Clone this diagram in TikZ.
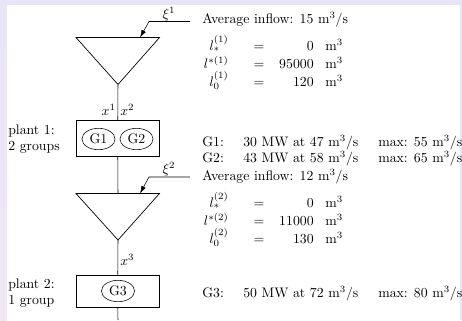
\documentclass[tikz,border=0pt]{standalone}
\usepackage{tikz}
\usetikzlibrary{shapes.geometric, arrows.meta, positioning, calc}
\definecolor{slideback}{RGB}{232,229,248}
\definecolor{slidebacklow}{RGB}{242,230,245}

\begin{document}
\begin{tikzpicture}[
  x=0.725pt, y=-0.725pt,
  plant/.style={rectangle, draw, minimum width=60.5pt, minimum height=26pt, inner sep=0pt},
  gen/.style={ellipse, draw, minimum width=24pt, minimum height=15.5pt, inner sep=0pt},
  res/.style={line width=0.5pt, line join=miter},
  arr/.style={-{Latex[length=5.5pt, width=3.5pt]}},
  txt/.style={anchor=base west, inner sep=0pt},
  lab/.style={anchor=base east, inner sep=0pt},
  eqs/.style={anchor=base, inner sep=0pt},
  num/.style={anchor=base east, inner sep=0pt},
  unit/.style={anchor=base west, inner sep=0pt}
]
\useasboundingbox (0,0) rectangle (462,320);

% ===== Slide background =====
\fill[slideback] (0,0) rectangle (462,320);
\shade[top color=slideback, bottom color=slidebacklow] (0,0) rectangle (7,320);
\fill[white] (7,5) rectangle (460,320);

% ===== Reservoir 1 =====
\coordinate (r1l) at (76,37.5);
\coordinate (r1r) at (159.5,37.5);
\coordinate (r1)  at (118,84.5);
\coordinate (r1in) at (140,37.5);
\draw[res] (r1l) -- (r1r) -- (r1) -- cycle;

\coordinate (xi1) at (190,21.5);
\coordinate (xi1b) at (149,21.5);
\draw[arr] (xi1) -- (xi1b) -- (r1in);
\node[eqs] (xi1lbl) at (169,18) {$\xi^1$};

% ===== Plant 1 =====
\node[plant] (p1) at (117.75,138) {};
\node[gen] (g1) at (98.5,139) {G1};
\node[gen] (g2) at (136.5,139) {G2};
\draw (r1) -- (p1.north);
\node[lab] (x1) at (116,115) {$x^1$};
\node[txt] (x2) at (120,115) {$x^2$};

\node[txt] (pl1a) at (8,134) {plant 1:};
\node[txt] (pl1b) at (8,150) {2 groups};

% ===== Reservoir 2 =====
\coordinate (r2l) at (76,193.5);
\coordinate (r2r) at (159.5,193.5);
\coordinate (r2)  at (118,240);
\coordinate (r2top) at (118,193.5);
\coordinate (r2in) at (140,193.5);
\draw[res] (r2l) -- (r2r) -- (r2) -- cycle;
\draw (p1.south) -- (r2top);

\coordinate (xi2) at (190,177);
\coordinate (xi2b) at (149,177);
\draw[arr] (xi2) -- (xi2b) -- (r2in);
\node[eqs] (xi2lbl) at (169,173.5) {$\xi^2$};

% ===== Plant 2 =====
\node[plant, minimum height=23.5pt] (p2) at (117.75,291) {};
\node[gen] (g3) at (118,291) {G3};
\draw (r2) -- (p2.north);
\node[txt] (x3) at (120,265) {$x^3$};
\coordinate (outlet) at (118,320);
\draw (p2.south) -- (outlet);

\node[txt] (pl2a) at (8,288) {plant 2:};
\node[txt] (pl2b) at (8,304) {1 group};

% ===== Data, reservoir 1 =====
\node[txt] (inf1) at (202,23) {Average inflow: 15 m$^3$/s};
\node[lab] (l1a) at (229,50) {$l_*^{(1)}$};
\node[eqs] (e1a) at (259,50) {$=$};
\node[num] (n1a) at (314,50) {0};
\node[unit] (u1a) at (325,50) {m$^3$};
\node[lab] (l1b) at (229,68) {$l^{*(1)}$};
\node[eqs] (e1b) at (259,68) {$=$};
\node[num] (n1b) at (314,68) {95000};
\node[unit] (u1b) at (325,68) {m$^3$};
\node[lab] (l1c) at (229,86) {$l_0^{(1)}$};
\node[eqs] (e1c) at (259,86) {$=$};
\node[num] (n1c) at (314,86) {120};
\node[unit] (u1c) at (325,86) {m$^3$};

\node[txt] (gl1) at (202,146) {G1:};
\node[txt] (gp1) at (243,146) {30 MW at 47 m$^3$/s};
\node[txt] (gm1) at (378,146) {max: 55 m$^3$/s};
\node[txt] (gl2) at (202,162) {G2:};
\node[txt] (gp2) at (243,162) {43 MW at 58 m$^3$/s};
\node[txt] (gm2) at (378,162) {max: 65 m$^3$/s};

% ===== Data, reservoir 2 =====
\node[txt] (inf2) at (202,180) {Average inflow: 12 m$^3$/s};
\node[lab] (l2a) at (229,207) {$l_*^{(2)}$};
\node[eqs] (e2a) at (259,207) {$=$};
\node[num] (n2a) at (314,207) {0};
\node[unit] (u2a) at (325,207) {m$^3$};
\node[lab] (l2b) at (229,225) {$l^{*(2)}$};
\node[eqs] (e2b) at (259,225) {$=$};
\node[num] (n2b) at (314,225) {11000};
\node[unit] (u2b) at (325,225) {m$^3$};
\node[lab] (l2c) at (229,243) {$l_0^{(2)}$};
\node[eqs] (e2c) at (259,243) {$=$};
\node[num] (n2c) at (314,243) {130};
\node[unit] (u2c) at (325,243) {m$^3$};

\node[txt] (gl3) at (202,297) {G3:};
\node[txt] (gp3) at (243,297) {50 MW at 72 m$^3$/s};
\node[txt] (gm3) at (378,297) {max: 80 m$^3$/s};

\end{tikzpicture}
\end{document}
